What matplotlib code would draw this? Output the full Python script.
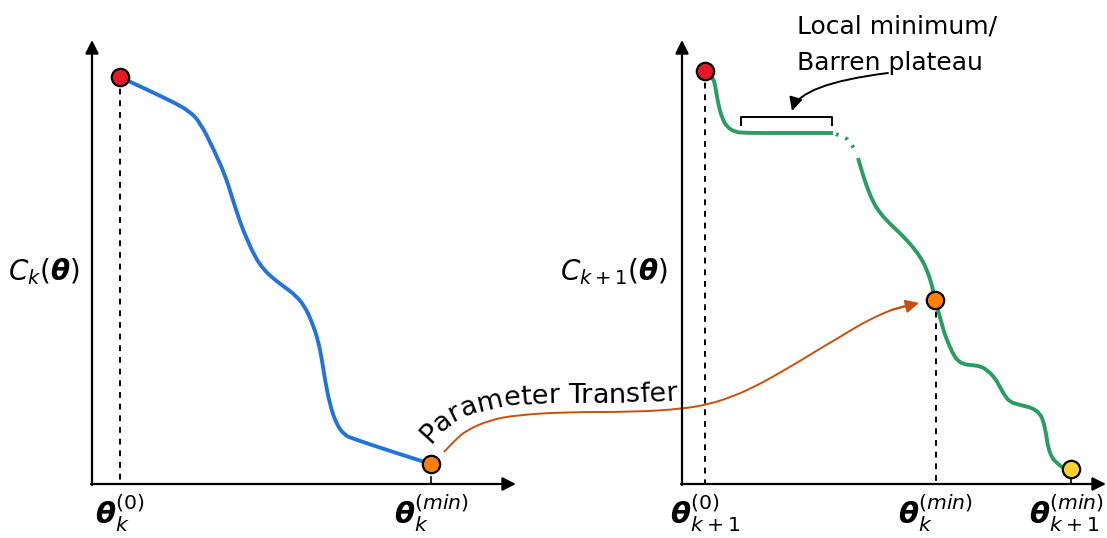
import numpy as np
import matplotlib
matplotlib.use("Agg")
import matplotlib.pyplot as plt
from matplotlib.font_manager import FontProperties
from matplotlib.patches import FancyArrowPatch, PathPatch
from matplotlib.path import Path

# all coordinates in picture pixels (x right, y down)
blue_x = [120, 150, 175, 189, 200, 214, 225, 232, 240, 246, 255, 264, 275, 286, 295, 304,
          312, 318, 322, 325, 330, 336, 344, 354, 390, 431]
blue_y = [77, 91, 103, 111, 122, 150, 175, 197, 222, 237, 257, 270, 280, 288, 295, 305,
          322, 340, 360, 380, 405, 423, 435, 439, 451, 464]

green_x1 = [705, 713, 716, 718, 722, 727, 735, 745, 790, 833]
green_y1 = [71, 76, 90, 103, 118, 127, 132, 133, 133, 133]
dot_x = [836, 847, 852, 857]
dot_y = [134, 139, 145, 154]
green_x2 = [858, 862, 867, 873, 880, 890, 900, 913, 921, 927, 932, 935, 940, 944, 947, 952,
            957, 963, 970, 980, 987, 995, 1000, 1005, 1010, 1020, 1033, 1040, 1043, 1046,
            1048, 1052, 1057, 1063, 1071]
green_y2 = [158, 172, 187, 202, 213, 224, 233, 247, 258, 270, 285, 300, 317, 332, 340, 352,
            360, 364, 365, 366, 370, 378, 387, 396, 402, 405, 408, 414, 420, 433,
            447, 458, 463, 468, 469]

transfer_x = [444, 455, 467, 490, 517, 567, 633, 682, 710, 734, 756, 776, 800, 821, 840,
              856, 875, 891, 905, 919]
transfer_y = [452, 440, 430, 420, 415, 412, 412, 409, 404, 396, 386, 375, 361, 348, 337,
              327, 317, 310, 306, 303]

# baseline of the curved label
label_x = [430, 441, 455, 473, 498, 528, 563, 603, 643, 690]
label_y = [444, 432, 421, 413, 407, 404, 403, 403, 402, 399]

points_x = [120, 431, 705, 935, 1071]
points_y = [77, 464, 71, 300, 469]
points_c = ["#e31a25", "#ff7f00", "#e31a25", "#ff7f00", "#f5d130"]

tick_x = [120, 431, 705, 935, 1104]
tick_text = [r"$\boldsymbol{\theta}_k^{(0)}$", r"$\boldsymbol{\theta}_k^{(min)}$",
             r"$\boldsymbol{\theta}_{k+1}^{(0)}$", r"$\boldsymbol{\theta}_k^{(min)}$",
             r"$\boldsymbol{\theta}_{k+1}^{(min)}$"]
tick_ha = ["center", "center", "center", "center", "right"]

BLUE = "#2374d9"
GREEN = "#2a9d64"
RUST = "#c94f0c"

fig = plt.figure(figsize=(11.07, 5.38), dpi=100)
ax = fig.add_axes([0, 0, 1, 1])
ax.set_xlim(0, 1107)
ax.set_ylim(538, 0)
ax.axis("off")


def smooth_path(xs, ys):
    # quadratic bezier through midpoints, read points act as control points
    pts = list(zip(xs, ys))
    verts = [pts[0]]
    codes = [Path.MOVETO]
    for i in range(1, len(pts) - 1):
        mid = ((pts[i][0] + pts[i + 1][0]) / 2, (pts[i][1] + pts[i + 1][1]) / 2)
        verts += [pts[i], mid]
        codes += [Path.CURVE3, Path.CURVE3]
    verts.append(pts[-1])
    codes.append(Path.LINETO)
    return Path(verts, codes)


def draw_curve(xs, ys, color, lw, **kw):
    ax.add_patch(PathPatch(smooth_path(xs, ys), fill=False, edgecolor=color, lw=lw,
                           capstyle="butt", joinstyle="round", zorder=2, **kw))


def axis_arrow(x0, y0, x1, y1):
    ax.annotate("", xy=(x1, y1), xytext=(x0, y0),
                arrowprops=dict(arrowstyle="-|>", lw=1.6, color="black",
                                mutation_scale=20, shrinkA=0, shrinkB=0))


# axes of both panels
axis_arrow(92, 485, 92, 40)
axis_arrow(91, 484, 516, 484)
axis_arrow(682, 485, 682, 40)
axis_arrow(681, 484, 1106, 484)

# dashed guides and small ticks
for x, y in [(120, 77), (705, 71), (936, 300)]:
    ax.plot([x, x], [y, 484], ls=(0, (3, 3)), color="black", lw=1.4, zorder=1)
for x in [431, 1071]:
    ax.plot([x, x], [477, 484], color="black", lw=1.2)

# cost curves
draw_curve(blue_x, blue_y, BLUE, 2.8)
draw_curve(green_x1, green_y1, GREEN, 2.8)
ax.plot(dot_x, dot_y, color=GREEN, lw=2.8, ls=(0, (0.7, 1.9)), zorder=2)
draw_curve(green_x2, green_y2, GREEN, 2.8)

# parameter transfer curve
draw_curve(transfer_x[:-1], transfer_y[:-1], RUST, 1.4)
ax.annotate("", xy=(transfer_x[-1], transfer_y[-1]), xytext=(transfer_x[-3], transfer_y[-3]),
            arrowprops=dict(arrowstyle="-|>", lw=1.4, color=RUST, mutation_scale=20,
                            shrinkA=0, shrinkB=0))

# points
for x, y, c in zip(points_x, points_y, points_c):
    ax.plot(x, y, "o", ms=12.5, mfc=c, mec="black", mew=1.6, zorder=4)

# bracket over plateau
ax.plot([741, 741, 832, 832], [125, 117, 117, 125], color="black", lw=1.4)

# annotation
ax.text(797, 34, "Local minimum/", fontsize=18, ha="left", va="baseline")
ax.text(797, 70, "Barren plateau", fontsize=18, ha="left", va="baseline")
arrow_path = Path([(888, 73), (800, 84), (792, 111)], [Path.MOVETO, Path.CURVE3, Path.CURVE3])
ax.add_patch(FancyArrowPatch(path=arrow_path, arrowstyle="-|>", mutation_scale=20, lw=1.4,
                             color="black"))

# axis labels
ax.text(44, 272, r"$C_k(\boldsymbol{\theta})$", fontsize=20, ha="center", va="center")
ax.text(614, 272, r"$C_{k+1}(\boldsymbol{\theta})$", fontsize=20, ha="center", va="center")
for x, s, ha in zip(tick_x, tick_text, tick_ha):
    ax.text(x, 513, s, fontsize=21, ha=ha, va="center")

# curved "Parameter Transfer" label
label = "Parameter Transfer"
prop = FontProperties(family="DejaVu Sans", size=19.5)
renderer = fig.canvas.get_renderer()
bx = np.array(label_x, float)
by = np.array(label_y, float)
seg = np.hypot(np.diff(bx), np.diff(by))
arc = np.concatenate([[0], np.cumsum(seg)])
for i, ch in enumerate(label):
    if ch == " ":
        continue
    w_pre, _, _ = renderer.get_text_width_height_descent(label[:i + 1], prop, ismath=False)
    w_ch, _, _ = renderer.get_text_width_height_descent(ch, prop, ismath=False)
    s = w_pre - w_ch / 2
    px = np.interp(s, arc, bx)
    py = np.interp(s, arc, by)
    x0, y0 = np.interp(s - 5, arc, bx), np.interp(s - 5, arc, by)
    x1, y1 = np.interp(s + 5, arc, bx), np.interp(s + 5, arc, by)
    ang = np.degrees(np.arctan2(-(y1 - y0), x1 - x0))
    ax.text(px, py, ch, fontproperties=prop, ha="center", va="baseline",
            rotation=ang, rotation_mode="anchor")

fig.savefig("out.png", dpi=100)
